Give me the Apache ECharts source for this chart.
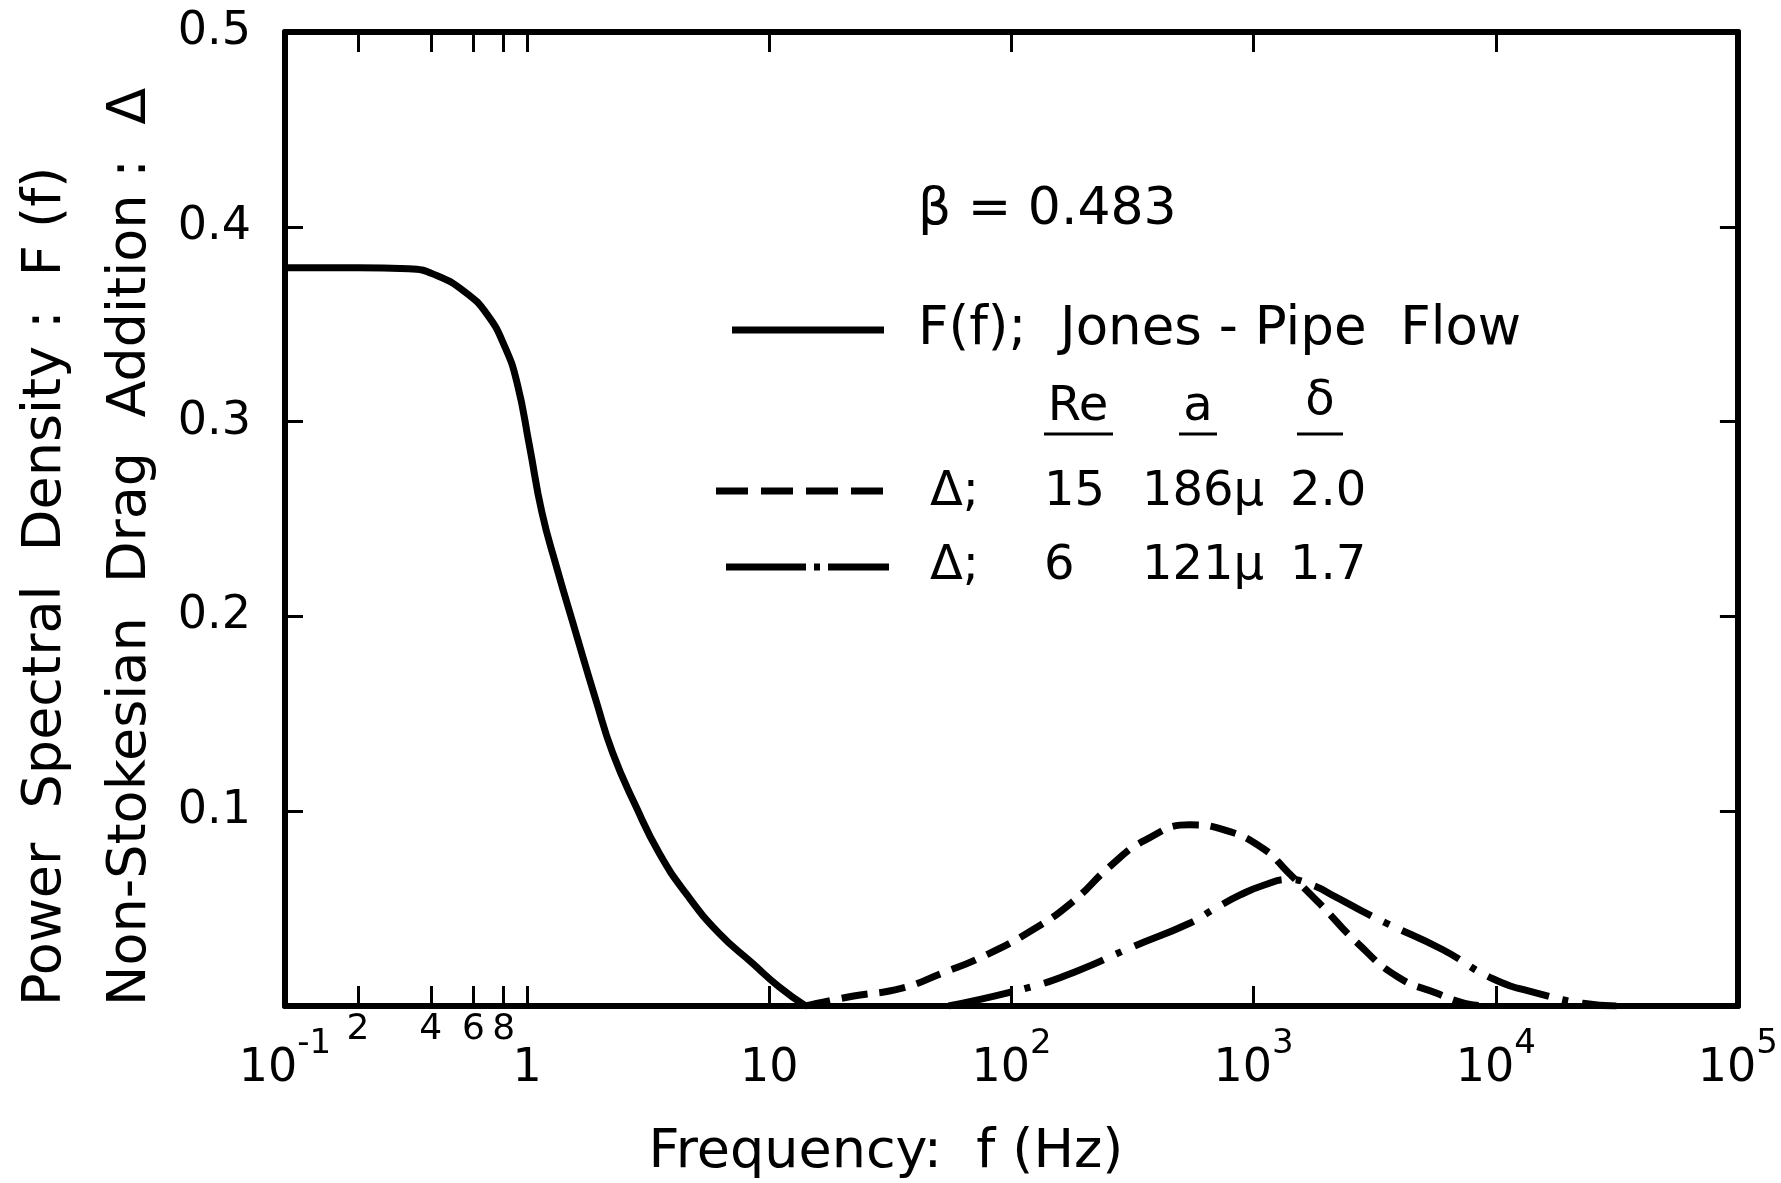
<!DOCTYPE html>
<html>
<head>
<meta charset="utf-8">
<title>Power spectral density / non-Stokesian drag addition</title>
<script src="https://cdn.jsdelivr.net/npm/echarts@6/dist/echarts.min.js"></script>
<style>
    html, body { margin: 0; padding: 0; background: #fff; }
    #chart1 { width: 1781px; height: 1183px; }
</style>
</head>
<body>
<div id="chart1"></div>
<script>
// F(f); Jones - pipe flow (solid)
var jonesFreq = [0.1, 0.2, 0.324, 0.423, 0.556, 0.681, 0.805, 0.908, 1.022, 1.151, 1.318, 1.585, 1.923, 2.254, 2.812, 3.508, 4.519, 6.194, 8.511, 10.96, 14.13];
var jonesVal = [0.379, 0.379, 0.3785, 0.375, 0.3664, 0.3553, 0.339, 0.320, 0.2876, 0.2533, 0.226, 0.192, 0.157, 0.130, 0.1025, 0.0785, 0.0579, 0.0374, 0.022, 0.0099, 0];

// Delta; Re 15, a 186u, delta 2.0 (dashed)
var re15Freq = [14, 22, 35, 52, 75, 122, 177, 257, 355, 544, 750, 1090, 1390, 1860, 2700, 3930, 5710, 7450, 9200];
var re15Val = [0, 0.005, 0.009, 0.017, 0.025, 0.039, 0.053, 0.072, 0.085, 0.093, 0.0905, 0.081, 0.0685, 0.053, 0.032, 0.015, 0.0065, 0.0014, 0];

// Delta; Re 6, a 121u, delta 1.7 (dash-dot)
var re6Freq = [55, 122, 187, 318, 544, 692, 880, 1100, 1390, 1750, 2180, 2780, 3530, 6020, 9730, 14900, 22900, 31500];
var re6Val = [0, 0.010, 0.018, 0.0305, 0.0425, 0.050, 0.057, 0.062, 0.065, 0.062, 0.056, 0.049, 0.0425, 0.029, 0.014, 0.0065, 0.0014, 0];

// axis ticks
var minorTicks = [0.2, 0.4, 0.6, 0.8];
var topTicks = [0.2, 0.4, 0.6, 0.8, 1, 10, 100, 1000, 10000];

// legend table
var legendRe = ['15', '6'];
var legendA = ['186μ', '121μ'];
var legendDelta = ['2.0', '1.7'];

var FONT = "'DejaVu Sans', 'Liberation Sans', sans-serif";

function pairs(xs, ys) {
    var out = [];
    for (var i = 0; i < xs.length; i++) {
        out.push([xs[i], ys[i]]);
    }
    return out;
}

function log10(v) {
    return Math.log(v) / Math.LN10;
}

// 10^n labels with a raised exponent
function decadeLabel(v) {
    var e = Math.round(log10(v));
    if (e === 0) return '{b|1}';
    if (e === 1) return '{b|10}';
    return '{b|10}{s|' + (e < 0 ? '-' + (-e) : e) + '}';
}

function txt(x, y, text, size, align, rot) {
    return {
        type: 'text',
        x: x,
        y: y,
        rotation: rot || 0,
        style: {
            text: text,
            fill: '#000',
            font: size + 'px ' + FONT,
            textAlign: align || 'left',
            textVerticalAlign: 'middle'
        }
    };
}

function seg(x1, x2, y, dash, w) {
    return {
        type: 'line',
        shape: {x1: x1, y1: y, x2: x2, y2: y},
        style: {stroke: '#000', lineWidth: w || 7, lineDash: dash || null}
    };
}

drawChart1();

function drawChart1() {
    var dom = document.getElementById('chart1');
    var myChart = echarts.init(dom);

    var graphics = [
        // axis titles
        txt(46, 1006, 'Power  Spectral  Density :  F (f)', 54, 'left', Math.PI / 2),
        txt(131, 1006, 'Non-Stokesian  Drag  Addition :  Δ', 54, 'left', Math.PI / 2),
        txt(886, 1153, 'Frequency:  f (Hz)', 54, 'center'),
        // legend
        txt(918, 210, 'β = 0.483', 52, 'left'),
        seg(732, 884, 330),
        txt(918, 330, 'F(f);  Jones - Pipe  Flow', 53, 'left'),
        txt(1078, 408, 'Re', 48, 'center'),
        txt(1198, 408, 'a', 48, 'center'),
        txt(1320, 402, 'δ', 48, 'center'),
        seg(1044, 1113, 434, null, 3),
        seg(1179, 1217, 434, null, 3),
        seg(1297, 1343, 434, null, 3),
        seg(716, 887, 491, [32, 13]),
        seg(726, 889, 567, [80, 8, 6, 8])
    ];
    var rowY = [493, 567];
    for (var i = 0; i < rowY.length; i++) {
        graphics.push(txt(930, rowY[i], 'Δ;', 48, 'left'));
        graphics.push(txt(1044, rowY[i], legendRe[i], 48, 'left'));
        graphics.push(txt(1142, rowY[i], legendA[i], 48, 'left'));
        graphics.push(txt(1290, rowY[i], legendDelta[i], 48, 'left'));
    }

    var axisLine = {onZero: false, lineStyle: {color: '#000', width: 6}};
    var tickStyle = {color: '#000', width: 3};

    var option = {
        backgroundColor: '#fff',
        animation: false,
        grid: {left: 285, right: 40, top: 32, bottom: 177, containLabel: false},
        xAxis: [
            {
                type: 'log',
                logBase: 10,
                min: 0.1,
                max: 100000,
                splitNumber: 6,
                position: 'bottom',
                axisLine: axisLine,
                axisTick: {inside: true, length: 20, lineStyle: tickStyle},
                axisLabel: {
                    margin: 21,
                    showMinLabel: true,
                    showMaxLabel: true,
                    formatter: decadeLabel,
                    rich: {
                        b: {fontSize: 46, lineHeight: 84, fontFamily: FONT, color: '#000'},
                        s: {fontSize: 34, lineHeight: 34, padding: [0, 0, 50, 0], fontFamily: FONT, color: '#000'}
                    }
                },
                splitLine: {show: false}
            },
            {
                // 2 4 6 8 between 10^-1 and 1
                type: 'value',
                min: -1,
                max: 5,
                position: 'bottom',
                axisLine: {show: false, onZero: false},
                axisTick: {show: true, inside: true, length: 20, lineStyle: tickStyle, customValues: minorTicks.map(log10)},
                axisLabel: {
                    show: true,
                    margin: 6,
                    fontSize: 36,
                    fontFamily: FONT,
                    color: '#000',
                    customValues: minorTicks.map(log10),
                    formatter: function (v) {
                        return String(Math.round(Math.pow(10, v) * 10));
                    }
                },
                splitLine: {show: false}
            },
            {
                type: 'value',
                min: -1,
                max: 5,
                position: 'top',
                axisLine: axisLine,
                axisTick: {show: true, inside: true, length: 20, lineStyle: tickStyle, customValues: topTicks.map(log10)},
                axisLabel: {show: false},
                splitLine: {show: false}
            }
        ],
        yAxis: [
            {
                type: 'value',
                min: 0,
                max: 0.5,
                interval: 0.1,
                position: 'left',
                axisLine: axisLine,
                axisTick: {inside: true, length: 18, lineStyle: tickStyle},
                axisLabel: {
                    margin: 34,
                    fontSize: 46,
                    fontFamily: FONT,
                    color: '#000',
                    showMinLabel: true,
                    showMaxLabel: true,
                    formatter: function (v) {
                        return v === 0 ? '' : v.toFixed(1);
                    }
                },
                splitLine: {show: false}
            },
            {
                type: 'value',
                min: 0,
                max: 0.5,
                interval: 0.1,
                position: 'right',
                axisLine: axisLine,
                axisTick: {inside: true, length: 18, lineStyle: tickStyle},
                axisLabel: {show: false},
                splitLine: {show: false}
            }
        ],
        series: [
            {
                name: 'F(f); Jones - Pipe Flow',
                type: 'line',
                xAxisIndex: 0,
                yAxisIndex: 0,
                data: pairs(jonesFreq, jonesVal),
                smooth: 0.5,
                showSymbol: false,
                lineStyle: {color: '#000', width: 7}
            },
            {
                name: 'Δ; Re 15',
                type: 'line',
                xAxisIndex: 0,
                yAxisIndex: 0,
                data: pairs(re15Freq, re15Val),
                smooth: 0.5,
                showSymbol: false,
                lineStyle: {color: '#000', width: 7, type: [26, 12]}
            },
            {
                name: 'Δ; Re 6',
                type: 'line',
                xAxisIndex: 0,
                yAxisIndex: 0,
                data: pairs(re6Freq, re6Val),
                smooth: 0.5,
                showSymbol: false,
                lineStyle: {color: '#000', width: 7, type: [64, 14, 6, 14]}
            }
        ],
        graphic: graphics
    };

    if (option && typeof option === 'object') {
        myChart.setOption(option, true);
        window.onresize = myChart.resize;
    }
}
</script>
</body>
</html>
